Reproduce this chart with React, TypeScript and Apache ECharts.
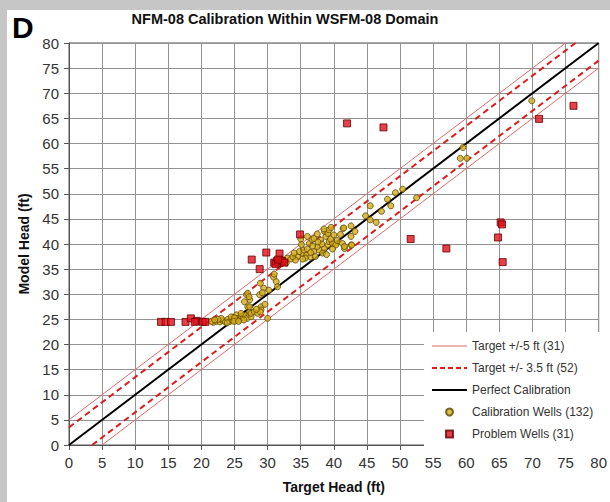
import React, { useEffect, useRef } from "react";
import * as echarts from "echarts";

const AXIS_MIN = 0;
const AXIS_MAX = 80;
const TICK_STEP = 5;

const TITLE = "NFM-08 Calibration Within WSFM-08 Domain";
const PANEL_LETTER = "D";
const X_NAME = "Target Head (ft)";
const Y_NAME = "Model Head (ft)";

const NAME_BAND5 = "Target +/-5 ft (31)";
const NAME_BAND35 = "Target +/- 3.5 ft (52)";
const NAME_PERFECT = "Perfect Calibration";
const NAME_CAL = "Calibration Wells (132)";
const NAME_PROB = "Problem Wells (31)";

// reference lines (y = x + offset), clipped to the 0..80 frame
const band5Upper: number[][] = [[0, 5], [75, 80]];
const band5Lower: number[][] = [[5, 0], [80, 75]];
const band35Upper: number[][] = [[0, 3.5], [76.5, 80]];
const band35Lower: number[][] = [[3.5, 0], [80, 76.5]];
const perfectLine: number[][] = [[0, 0], [80, 80]];

// Calibration wells: [target, model]
const calibrationWells: number[][] = [
  [21.8, 24.4], [22.3, 24.6], [22.8, 24.5], [23.2, 24.8], [23.6, 24.5], [24.0, 25.0],
  [24.3, 24.6], [24.6, 24.9], [24.8, 25.4], [25.1, 24.7], [25.3, 25.9], [25.5, 25.2],
  [25.8, 25.0], [26.0, 25.6], [26.3, 25.3], [26.6, 25.8], [26.9, 25.2], [27.2, 26.0],
  [27.5, 25.5], [27.3, 26.5], [27.5, 26.2], [28.0, 26.5], [28.5, 26.2], [23.0, 25.2],
  [24.5, 25.5], [26.0, 26.2], [22.5, 25.0], [25.0, 25.3], [23.9, 24.3], [24.9, 24.6],
  [26.4, 24.9], [21.5, 24.6], [22.0, 24.9], [25.6, 24.6],
  [26.8, 29.9], [27.0, 30.2], [27.3, 28.9], [27.2, 29.5], [27.0, 27.5], [27.3, 27.5],
  [28.9, 32.2], [29.4, 31.2], [28.8, 29.9], [29.2, 30.3], [29.0, 27.5], [29.0, 26.9],
  [28.9, 26.5], [30.0, 25.2], [30.9, 33.4], [31.3, 32.5], [31.5, 31.5], [32.8, 36.2],
  [32.0, 37.0], [33.0, 37.2], [32.5, 36.5], [33.5, 37.0], [31.0, 34.0], [30.2, 30.8],
  [26.5, 28.5], [29.6, 28.0], [28.3, 27.0],
  [35.1, 39.9], [36.3, 40.1], [36.7, 40.9], [35.4, 38.1], [35.9, 37.8], [36.5, 37.4],
  [35.7, 37.2], [37.0, 38.5], [37.8, 38.8], [38.6, 39.1], [39.1, 39.8], [39.3, 40.5],
  [38.8, 41.5], [38.6, 42.5], [39.1, 42.1], [39.3, 42.8], [38.0, 40.8], [40.2, 40.0],
  [37.0, 41.1], [39.8, 40.1], [40.3, 39.8], [34.5, 37.5], [34.8, 38.5], [35.5, 38.8],
  [36.0, 39.0], [37.5, 39.5], [38.2, 40.0], [39.5, 41.0], [38.5, 43.0], [37.5, 42.0],
  [36.5, 38.3], [34.2, 36.8], [33.8, 37.5], [37.2, 37.5], [38.3, 38.2], [39.8, 39.0],
  [40.5, 40.7], [36.0, 41.5], [35.0, 41.0], [34.0, 38.2], [36.8, 39.6], [38.9, 37.9],
  [37.6, 40.4], [35.3, 37.0], [39.6, 43.3], [40.0, 41.8],
  [41.4, 43.1], [42.6, 43.6], [42.6, 41.5], [41.3, 40.1], [41.6, 39.1], [42.6, 39.8],
  [41.5, 43.2], [42.7, 39.8], [41.6, 39.5], [41.0, 41.9], [43.2, 42.5],
  [45.5, 47.6], [45.5, 44.8], [46.4, 44.3], [48.1, 48.9], [48.6, 47.6], [49.3, 50.2],
  [50.4, 50.9], [52.5, 49.2], [44.8, 45.6], [47.2, 46.5],
  [59.5, 59.2], [59.1, 57.05], [60.1, 57.05], [69.9, 68.5],
];

// Problem wells: [target, model]
const problemWells: number[][] = [
  [13.9, 24.5], [14.6, 24.5], [15.4, 24.5], [17.6, 24.5], [18.4, 25.2], [19.3, 24.7],
  [20.2, 24.5], [19.0, 24.5], [20.6, 24.5],
  [27.6, 36.9], [28.8, 35.0], [29.8, 38.3], [31.8, 38.1], [31.0, 36.3], [31.4, 36.6],
  [31.8, 36.2], [32.2, 36.6], [32.5, 36.3], [31.2, 36.0], [31.6, 36.9],
  [34.9, 41.9], [42.0, 64.0], [47.5, 63.2], [51.6, 41.0], [57.0, 39.1], [65.2, 44.3],
  [65.4, 43.9], [64.8, 41.3], [65.5, 36.4], [71.0, 64.9], [76.2, 67.5],
];

const FONT = "'Liberation Sans', Arial, sans-serif";
const SQUARE = "path://M0,0L10,0L10,10L0,10Z";
const ICON_THIN = "path://M0,0L35,0L35,1L0,1Z";
const ICON_THICK = "path://M0,0L35,0L35,2L0,2Z";
const ICON_DASH =
  "path://M0,0L5,0L5,2L0,2Z M8,0L13,0L13,2L8,2Z M16,0L21,0L21,2L16,2Z M24,0L29,0L29,2L24,2Z M32,0L35,0L35,2L32,2Z";

export default function App() {
  const ref = useRef<HTMLDivElement>(null);

  useEffect(() => {
    if (!ref.current) return;
    const chart = echarts.init(ref.current, undefined, { renderer: "svg" });

    const thinRed = { color: "#e36a6a", width: 1, type: "solid" as const };
    const dashRed = { color: "#e01b1b", width: 2, type: [6, 4] as any };
    const black = { color: "#000000", width: 2, type: "solid" as const };

    const lineSeries = (name: string, data: number[][], ls: any, z: number) => ({
      name,
      type: "line",
      data,
      symbol: "none",
      showSymbol: false,
      lineStyle: ls,
      itemStyle: { color: ls.color },
      silent: true,
      z,
    });

    const axisCommon = {
      type: "value" as const,
      min: AXIS_MIN,
      max: AXIS_MAX,
      interval: TICK_STEP,
      axisLine: { show: true, lineStyle: { color: "#555", width: 1 } },
      axisTick: { show: true, length: 5, lineStyle: { color: "#555" } },
      splitLine: { show: true, lineStyle: { color: "#939393", width: 1 } },
      axisLabel: { color: "#333", fontSize: 15, fontFamily: FONT, margin: 10 },
      nameLocation: "middle" as const,
      nameTextStyle: { color: "#111", fontSize: 14, fontWeight: "bold" as const, fontFamily: FONT },
    };

    const noBorder = { borderWidth: 0 };

    chart.setOption({
      animation: false,
      backgroundColor: "#ffffff",
      grid: { left: 62, top: 33, right: 9, bottom: 57, show: true, borderColor: "#555", borderWidth: 1 },
      xAxis: { ...axisCommon, name: X_NAME, nameGap: 35 },
      yAxis: { ...axisCommon, name: Y_NAME, nameGap: 35 },
      graphic: [
        {
          type: "text",
          x: 5,
          y: 2,
          style: { text: PANEL_LETTER, font: `bold 30px ${FONT}`, fill: "#000", verticalAlign: "top" },
        },
        {
          type: "text",
          x: 278,
          y: 9,
          style: {
            text: TITLE,
            font: `bold 14.5px ${FONT}`,
            fill: "#111",
            align: "center",
            verticalAlign: "middle",
          },
        },
      ],
      legend: {
        orient: "vertical",
        left: 417,
        top: 322,
        padding: [8, 14, 10, 8],
        backgroundColor: "#ffffff",
        itemWidth: 35,
        itemHeight: 7,
        itemGap: 10,
        textStyle: { fontSize: 12, color: "#333", fontFamily: FONT },
        data: [
          { name: NAME_BAND5, icon: ICON_THIN, itemStyle: { ...noBorder, color: "#e36a6a" } },
          { name: NAME_BAND35, icon: ICON_DASH, itemStyle: { ...noBorder, color: "#e01b1b" } },
          { name: NAME_PERFECT, icon: ICON_THICK, itemStyle: { ...noBorder, color: "#000000" } },
          { name: NAME_CAL, icon: "circle" },
          { name: NAME_PROB, icon: SQUARE },
        ],
        selectedMode: false,
      },
      series: [
        lineSeries(NAME_BAND5, band5Upper, thinRed, 3),
        lineSeries(NAME_BAND5, band5Lower, thinRed, 3),
        lineSeries(NAME_BAND35, band35Upper, dashRed, 3),
        lineSeries(NAME_BAND35, band35Lower, dashRed, 3),
        lineSeries(NAME_PERFECT, perfectLine, black, 3),
        {
          name: NAME_CAL,
          type: "scatter",
          data: calibrationWells,
          symbol: "circle",
          symbolSize: 6,
          itemStyle: { color: "#d4ac1c", borderColor: "#5b4600", borderWidth: 1 },
          z: 4,
        },
        {
          name: NAME_PROB,
          type: "scatter",
          data: problemWells,
          symbol: "rect",
          symbolSize: 7,
          itemStyle: { color: "#e0101a", borderColor: "#6a0000", borderWidth: 1 },
          z: 5,
        },
      ],
    });

    return () => chart.dispose();
  }, []);

  return (
    <div style={{ position: "fixed", left: 0, top: 0, width: 610, height: 502, background: "#c6c6c6" }}>
      <div
        ref={ref}
        style={{ position: "absolute", left: 7, top: 10, width: 603, height: 492, background: "#fff" }}
      />
    </div>
  );
}
